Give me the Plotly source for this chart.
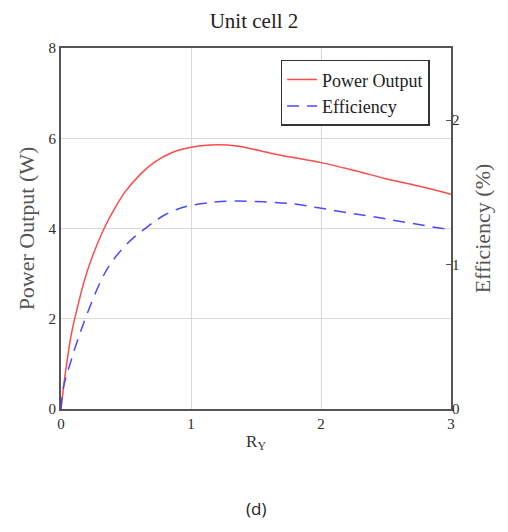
import plotly.graph_objects as go

# Data
r_power = [0, 0.01, 0.036, 0.082, 0.133, 0.18, 0.24, 0.338, 0.415, 0.49, 0.61, 0.72, 0.85,
           1.0, 1.15, 1.35, 1.61, 1.81, 2.0, 2.25, 2.49, 2.75, 3.0]
power = [0, 0.25, 0.85, 1.70, 2.33, 2.85, 3.37, 4.04, 4.45, 4.80, 5.20, 5.47, 5.68,
         5.80, 5.85, 5.83, 5.67, 5.56, 5.46, 5.29, 5.11, 4.94, 4.76]

r_eff = [0, 0.018, 0.069, 0.133, 0.21, 0.313, 0.377, 0.467, 0.556, 0.633, 0.72, 0.8, 0.9,
         1.0, 1.15, 1.33, 1.56, 1.79, 1.98, 2.2, 2.45, 2.7, 3.0]
efficiency = [0, 0.147, 0.31, 0.49, 0.68, 0.90, 1.0, 1.105, 1.185, 1.24, 1.30, 1.345, 1.385,
              1.41, 1.43, 1.44, 1.435, 1.42, 1.393, 1.36, 1.324, 1.285, 1.24]

x_ticks = [0, 1, 2, 3]
y_ticks = [0, 2, 4, 6, 8]
y2_ticks = [0, 1, 2]

serif = "Liberation Serif, Times New Roman, serif"
tick_font = dict(family=serif, size=15, color="#2a2a2a")

fig = go.Figure()
fig.add_trace(go.Scatter(
    x=r_power, y=power, name="Power Output", mode="lines",
    line=dict(color="#ff4a4a", width=1.5, shape="spline", smoothing=1.0),
))
fig.add_trace(go.Scatter(
    x=r_eff, y=efficiency, name="Efficiency", mode="lines", yaxis="y2",
    line=dict(color="#4a4aff", width=1.5, dash="12px,8px", shape="spline", smoothing=1.0),
))

fig.update_layout(
    width=508, height=532,
    margin=dict(l=61, r=57, t=48, b=123),
    paper_bgcolor="white", plot_bgcolor="white",
    title=dict(text="Unit cell 2", x=0.5, xanchor="center", y=0.962, yanchor="middle",
               font=dict(family=serif, size=21, color="#222")),
    showlegend=True,
    legend=dict(x=0.563, y=0.967, xanchor="left", yanchor="top",
                bordercolor="#333", borderwidth=1.5, bgcolor="white",
                font=dict(family=serif, size=18, color="#222"),
                tracegroupgap=0, itemwidth=30),
    xaxis=dict(range=[0, 3], tickvals=x_ticks, ticks="", showgrid=True,
               gridcolor="#d8d8d8", gridwidth=1, zeroline=False,
               showline=True, linecolor="#555", linewidth=2, mirror=True,
               tickfont=tick_font, ticklabelstandoff=0,
               title=dict(text="R<sub>Y</sub>", font=dict(family=serif, size=17, color="#333"),
                          standoff=4)),
    yaxis=dict(range=[0, 8], tickvals=y_ticks, ticks="", showgrid=True,
               gridcolor="#d8d8d8", gridwidth=1, zeroline=False,
               showline=True, linecolor="#555", linewidth=2, mirror=True,
               tickfont=tick_font, ticklabelstandoff=0,
               title=dict(text="Power Output (W)", font=dict(family=serif, size=22, color="#555"),
                          standoff=8)),
    yaxis2=dict(range=[0, 2.5], tickvals=y2_ticks, overlaying="y", side="right",
                ticks="inside", ticklen=5, tickcolor="#555", showgrid=False, zeroline=False,
                tickfont=tick_font, ticklabelstandoff=0,
                title=dict(text="Efficiency (%)", font=dict(family=serif, size=22, color="#555"),
                           standoff=16)),
    annotations=[dict(text="(d)", x=0.5, xref="paper", y=-(508 - 409) / (409 - 48), yref="paper",
                      yanchor="middle", showarrow=False,
                      font=dict(family="Open Sans, Noto Sans, sans-serif", size=17, color="#222"))],
)

fig.write_html("out.html")
